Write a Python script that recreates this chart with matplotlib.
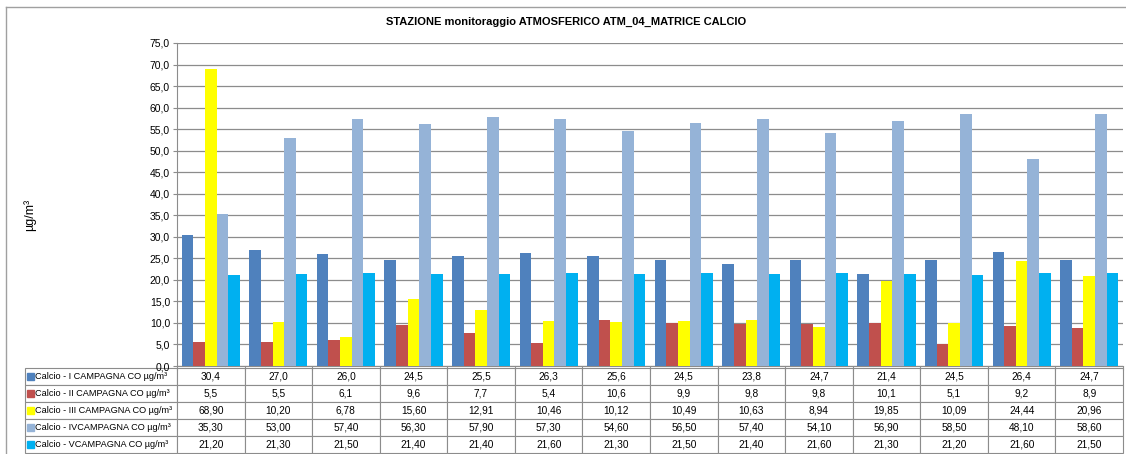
import numpy as np
import matplotlib.pyplot as plt
from matplotlib.patches import Rectangle
from matplotlib.ticker import FuncFormatter, MultipleLocator
from matplotlib.lines import Line2D

plt.rcParams['font.family'] = ['Liberation Sans', 'DejaVu Sans']

title = "STAZIONE monitoraggio ATMOSFERICO ATM_04_MATRICE CALCIO"
ylabel = "µg/m³"
series_names = [
    "Calcio - I CAMPAGNA CO µg/m³",
    "Calcio - II CAMPAGNA CO µg/m³",
    "Calcio - III CAMPAGNA CO µg/m³",
    "Calcio - IVCAMPAGNA CO µg/m³",
    "Calcio - VCAMPAGNA CO µg/m³",
]
camp1 = [30.4, 27.0, 26.0, 24.5, 25.5, 26.3, 25.6, 24.5, 23.8, 24.7, 21.4, 24.5, 26.4, 24.7]
camp2 = [5.5, 5.5, 6.1, 9.6, 7.7, 5.4, 10.6, 9.9, 9.8, 9.8, 10.1, 5.1, 9.2, 8.9]
camp3 = [68.90, 10.20, 6.78, 15.60, 12.91, 10.46, 10.12, 10.49, 10.63, 8.94, 19.85, 10.09, 24.44, 20.96]
camp4 = [35.30, 53.00, 57.40, 56.30, 57.90, 57.30, 54.60, 56.50, 57.40, 54.10, 56.90, 58.50, 48.10, 58.60]
camp5 = [21.20, 21.30, 21.50, 21.40, 21.40, 21.60, 21.30, 21.50, 21.40, 21.60, 21.30, 21.20, 21.60, 21.50]
decimals = [1, 1, 2, 2, 2]
colors = ['#4F81BD', '#C0504D', '#FFFF00', '#95B3D7', '#00B0F0']

series = [camp1, camp2, camp3, camp4, camp5]
n = len(camp1)

W, H = 1126, 454
fig = plt.figure(figsize=(W / 100, H / 100), dpi=100)
left, right, top, bottom = 177, 1123, 43, 366
ax = fig.add_axes([left / W, 1 - bottom / H, (right - left) / W, (bottom - top) / H])

# outer chart border
fig.add_artist(Line2D([6 / W, 6 / W], [0, 1 - 7 / H], transform=fig.transFigure, color='#A0A0A0', lw=1))
fig.add_artist(Line2D([6 / W, 1], [1 - 7 / H, 1 - 7 / H], transform=fig.transFigure, color='#A0A0A0', lw=1))

x = np.arange(n)
bw = 0.172
for i, (vals, c) in enumerate(zip(series, colors)):
    ax.bar(x + (i - 2) * bw, vals, width=bw, color=c, zorder=3, linewidth=0)

ax.set_xlim(-0.5, n - 0.5)
ax.set_ylim(0, 75)
ax.yaxis.set_major_locator(MultipleLocator(5))
ax.yaxis.set_major_formatter(FuncFormatter(lambda v, p: f"{v:.1f}".replace('.', ',')))
ax.grid(axis='y', color='#8C8C8C', lw=0.9, zorder=0)
ax.set_xticks(np.arange(n + 1) - 0.5)
ax.set_xticklabels([])
ax.tick_params(axis='x', length=3, color='#8C8C8C')
ax.tick_params(axis='y', labelsize=7.5, length=3, color='#8C8C8C', pad=2)
for s in ['top', 'right']:
    ax.spines[s].set_visible(False)
for s in ['left', 'bottom']:
    ax.spines[s].set_color('#8C8C8C')

fig.text(566 / W, 1 - 22 / H, title, ha='center', va='center', fontsize=8.0, fontweight='bold')
fig.text(30 / W, 1 - 215 / H, ylabel, ha='center', va='center', rotation=90, fontsize=9)

# data table
cell_text = [[''] + [f"{v:.{d}f}".replace('.', ',') for v in vals] for vals, d in zip(series, decimals)]
axw = right - left
axh = bottom - top
lab_w = (177 - 25) / axw
tab_top = (366 - 368) / axh
tab_h = (453 - 368) / axh
tbl = ax.table(cellText=cell_text, colWidths=[lab_w] + [1 / n] * n, cellLoc='center',
               bbox=[-lab_w, tab_top - tab_h, 1 + lab_w, tab_h])
tbl.auto_set_font_size(False)
tbl.set_fontsize(7.3)
for (r, c), cell in tbl.get_celld().items():
    cell.set_edgecolor('#8C8C8C')
    cell.set_linewidth(0.8)

row_h = tab_h / 5
for i, (name, c) in enumerate(zip(series_names, colors)):
    yc = tab_top - (i + 0.5) * row_h
    sq_w = 7 / axw
    sq_h = 7 / axh
    ax.add_patch(Rectangle((-lab_w + 2 / axw, yc - sq_h / 2), sq_w, sq_h, transform=ax.transAxes,
                           color=c, clip_on=False, zorder=5))
    ax.text(-lab_w + 10 / axw, yc, name, transform=ax.transAxes, ha='left', va='center',
            fontsize=6.6, clip_on=False, zorder=5)

fig.savefig('out.png', dpi=100)
